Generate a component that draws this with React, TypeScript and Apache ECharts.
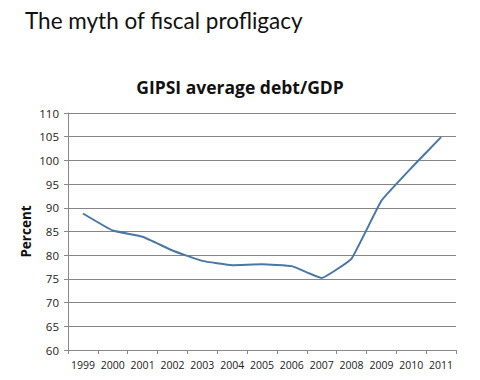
import React, { useEffect, useRef } from "react";
import * as echarts from "echarts";

const years = ["1999", "2000", "2001", "2002", "2003", "2004", "2005", "2006", "2007", "2008", "2009", "2010", "2011"];
const debtGdp = [88.8, 85.2, 83.9, 81.0, 78.8, 77.9, 78.1, 77.7, 75.2, 79.3, 91.5, 98.4, 104.9];

export default function App() {
  const ref = useRef<HTMLDivElement>(null);
  useEffect(() => {
    const chart = echarts.init(ref.current!, null, { renderer: "svg" });
    chart.setOption({
      animation: false,
      backgroundColor: "#ffffff",
      title: [
        {
          text: "The myth of fiscal profligacy",
          left: 20,
          top: 4,
          textStyle: { fontFamily: "Lato", fontSize: 22.5, fontWeight: "normal", color: "#111" },
        },
        {
          text: "GIPSI average debt/GDP",
          left: "center",
          top: 73,
          textStyle: { fontFamily: "Open Sans", fontSize: 17.5, fontWeight: "bold", color: "#111" },
        },
      ],
      grid: { left: 68, right: 24, top: 113, bottom: 30 },
      xAxis: {
        type: "category",
        data: years,
        boundaryGap: true,
        axisLine: { lineStyle: { color: "#888", width: 1 } },
        axisTick: { show: true, length: 4, lineStyle: { color: "#888" } },
        axisLabel: { color: "#222", fontFamily: "Open Sans", fontSize: 10.5, margin: 9, interval: 0 },
      },
      yAxis: {
        type: "value",
        min: 60,
        max: 110,
        interval: 5,
        name: "Percent",
        nameLocation: "middle",
        nameGap: 35,
        nameMoveOverlap: false,
        nameTextStyle: { fontFamily: "Open Sans", fontSize: 13.5, fontWeight: "bold", color: "#111" },
        axisLine: { show: true, lineStyle: { color: "#888" } },
        axisTick: { show: true, length: 4, lineStyle: { color: "#888" } },
        axisLabel: { color: "#222", fontFamily: "Open Sans", fontSize: 11.5, margin: 9 },
        splitLine: { lineStyle: { color: "#858585", width: 1 } },
      },
      series: [
        {
          type: "line",
          data: debtGdp,
          smooth: 0.1,
          showSymbol: false,
          lineStyle: { color: "#4a77a3", width: 2 },
        },
      ],
    });
    return () => chart.dispose();
  }, []);
  return <div ref={ref} style={{ position: "absolute", left: 0, top: 0, width: 480, height: 380 }} />;
}
